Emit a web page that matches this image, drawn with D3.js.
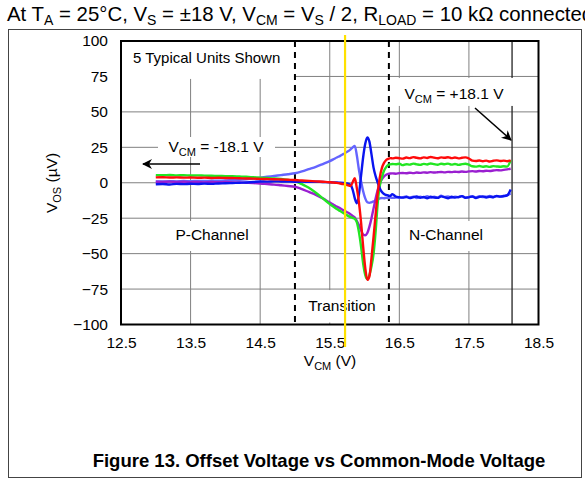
<!doctype html>
<html lang="en">
<head>
<meta charset="UTF-8">
<title>Offset Voltage vs Common-Mode Voltage</title>
<script src="https://d3js.org/d3.v7.min.js"></script>
<style>
body { margin: 0; background: #fff; }
text { font-family: "Liberation Sans", Arial, sans-serif; }
</style>
</head>
<body>
<div id="chart"></div>
<script>
// common-mode voltage (V), shared by all five units
var vcm = [13.0,13.1,13.2,13.3,13.4,13.5,13.6,13.7,13.8,13.9,14.0,14.1,14.2,14.3,14.4,14.5,14.6,14.7,14.8,14.9,15.0,15.1,15.2,15.3,15.4,15.5,
  15.55,15.6,15.65,15.7,15.75,15.8,15.83,15.86,15.89,15.92,15.95,15.98,16.01,16.04,16.07,16.1,16.13,16.16,16.19,16.22,16.25,16.28,16.31,16.34,16.37,16.4,16.45,16.5,
  16.55,16.6,16.65,16.7,16.75,16.8,16.85,16.9,16.95,17.0,17.05,17.1,17.15,17.2,17.25,17.3,17.35,17.4,17.45,17.5,17.55,17.6,17.65,17.7,17.75,17.8,17.85,17.9,17.95,18.0,18.05,18.1];

// offset voltage (uV) per unit
var unitLightBlue = [1.0,0.9,1.1,1.0,1.2,1.1,1.3,1.2,1.4,1.5,1.6,1.8,2.0,2.4,3.0,3.6,4.2,4.8,5.4,6.0,6.7,8.0,9.6,11.2,13.2,15.3,
  16.5,17.8,19.0,20.4,21.8,23.6,25.0,26.0,19.0,9.0,1.0,-6.0,-11.0,-13.8,-14.2,-13.8,-13.2,-12.5,-11.8,-11.0,-10.8,-10.9,-10.6,-10.8,-10.5,-10.7,-10.4,-10.6,
  -10.2,-9.6,-10.5,-9.8,-10.8,-9.9,-10.3,-9.5,-10.6,-9.9,-10.4,-9.2,-10.1,-9.7,-10.6,-9.8,-10.2,-9.4,-10.5,-10.0,-9.6,-10.3,-9.5,-10.1,-9.8,-9.3,-10.0,-9.4,-9.7,-9.2,-8.8,-7.5];
var unitPurple = [0.7,0.6,0.8,0.5,0.7,0.4,0.6,0.3,0.5,0.4,0.5,0.3,0.2,0.0,-0.2,-0.5,-0.9,-1.3,-1.8,-2.3,-2.8,-4.5,-6.5,-8.5,-11.0,-14.0,
  -15.3,-16.8,-18.0,-19.5,-20.8,-22.3,-23.5,-24.5,-27.0,-30.0,-33.5,-36.5,-37.0,-35.5,-31.0,-25.0,-18.0,-11.0,-5.0,-0.5,2.5,4.5,5.6,6.2,6.5,6.6,6.4,6.8,
  6.9,6.7,7.1,6.8,7.2,7.0,7.3,7.1,7.5,7.2,7.4,7.6,7.3,7.7,7.5,7.8,7.6,7.9,7.7,8.0,8.2,7.9,8.3,8.1,8.5,8.3,8.6,8.9,8.7,9.1,9.4,9.9];
var unitGreen = [5.4,5.3,5.5,5.2,5.3,5.1,5.2,5.0,4.9,4.8,4.7,4.6,4.4,4.2,3.9,3.6,3.3,3.0,2.6,2.0,1.2,-1.0,-3.5,-7.0,-11.0,-15.0,
  -16.8,-18.5,-20.0,-21.5,-23.0,-24.2,-24.8,-25.5,-28.0,-35.0,-45.0,-57.0,-65.0,-68.0,-65.0,-59.0,-50.0,-34.0,-14.0,-2.0,4.0,8.5,11.0,12.5,13.0,13.2,13.0,13.4,
  12.4,13.1,12.8,13.5,13.0,12.6,13.3,12.9,13.6,13.1,12.7,13.4,13.0,13.5,12.8,13.2,12.6,13.1,13.4,12.7,11.6,11.4,11.8,11.3,11.6,11.2,11.7,11.5,11.3,11.6,11.4,15.9];
var unitBlue = [-1.1,-0.9,-1.2,-0.8,-1.0,-0.7,-0.9,-0.6,-0.8,-0.5,-0.4,-0.2,0.0,0.2,0.5,0.9,0.8,1.0,0.9,0.8,0.7,0.8,0.6,0.7,0.5,0.4,
  0.3,0.2,0.0,-0.2,-0.4,-1.5,-5.0,-11.0,-14.5,-8.0,5.0,18.0,27.5,32.0,29.0,20.0,10.5,4.5,0.0,-4.0,-6.5,-8.0,-8.6,-9.0,-9.3,-8.0,-9.8,-10.2,
  -10.5,-10.0,-10.8,-10.2,-9.7,-10.6,-10.1,-10.9,-9.8,-10.4,-10.7,-9.6,-10.2,-10.9,-9.9,-10.5,-10.1,-9.4,-10.6,-10.3,-9.7,-10.8,-10.0,-9.6,-10.4,-9.9,-10.2,-9.3,-9.8,-9.5,-8.9,-4.8];
var unitRed = [3.8,3.9,3.7,3.8,3.6,3.7,3.5,3.6,3.4,3.5,3.4,3.3,3.2,3.0,2.9,2.7,2.6,2.5,2.3,2.1,1.9,1.6,1.3,1.0,0.7,0.4,
  0.2,-0.1,-0.5,-1.0,-1.7,-2.3,0.5,3.2,-4.0,-14.0,-28.0,-45.0,-60.0,-68.5,-66.0,-53.0,-38.0,-22.0,-7.0,4.0,10.5,14.0,16.0,16.8,17.4,17.2,17.6,17.3,
  17.0,17.8,17.4,18.1,17.6,17.2,17.9,17.5,18.2,17.7,17.3,17.9,17.6,18.0,17.4,17.8,17.2,17.6,17.9,17.1,15.6,15.3,15.7,15.2,15.6,15.0,15.5,15.8,15.3,15.6,15.2,15.8];

var xTicks = [12.5, 13.5, 14.5, 15.5, 16.5, 17.5, 18.5];
var yTicks = [-100, -75, -50, -25, 0, 25, 50, 75, 100];
var xGrid = [13.5, 14.5, 15.5, 16.5, 17.5];
var regionEdges = [15.0, 16.35];
var railLine = 18.12;
var cursorLine = 15.72;

var width = 585, height = 480;
var plot = {left: 121, right: 538.5, top: 41, bottom: 324.5};

var svg = d3.select("#chart").append("svg")
    .attr("width", width)
    .attr("height", height);

var x = d3.scaleLinear().domain([12.5, 18.5]).range([plot.left, plot.right]);
var y = d3.scaleLinear().domain([-100, 100]).range([plot.bottom, plot.top]);

// text with subscripts: parts alternate normal / subscript
function richText(t, parts, subSize) {
  parts.forEach(function(p, i) {
    if (i % 2 == 0) {
      t.append("tspan").attr("dy", i == 0 ? 0 : -4).text(p);
    } else {
      t.append("tspan").attr("font-size", subSize).attr("dy", 4).text(p);
    }
  });
  return t;
}

// header line, runs off the right edge like the datasheet crop
richText(svg.append("text").attr("x", 7).attr("y", 21).attr("font-size", "20.4px").attr("fill", "#000"),
  ["At T", "A", " = 25°C, V", "S", " = ±18 V, V", "CM", " = V", "S", " / 2, R", "LOAD", " = 10 kΩ connected to V", "S", " / 2"], "14px");

// outer figure box
svg.append("rect")
    .attr("x", 8.5).attr("y", 29.5)
    .attr("width", 573).attr("height", 448)
    .attr("fill", "none").attr("stroke", "#444").attr("stroke-width", 1);

// grid
var grid = svg.append("g");
grid.selectAll(".hgrid").data(yTicks.slice(1, -1)).enter().append("line")
    .attr("x1", plot.left).attr("x2", plot.right)
    .attr("y1", function(d) { return y(d); }).attr("y2", function(d) { return y(d); })
    .attr("stroke", "#808080").attr("stroke-width", 1);
grid.selectAll(".vgrid").data(xGrid).enter().append("line")
    .attr("x1", function(d) { return x(d); }).attr("x2", function(d) { return x(d); })
    .attr("y1", plot.top).attr("y2", plot.bottom)
    .attr("stroke", "#808080").attr("stroke-width", 1);
grid.append("line")
    .attr("x1", x(railLine)).attr("x2", x(railLine))
    .attr("y1", plot.top).attr("y2", plot.bottom)
    .attr("stroke", "#222").attr("stroke-width", 1.3);

// white boxes behind the annotations
var boxes = [
  [plot.left, plot.top, x(15.0) - plot.left - 1, y(75) - plot.top + 2.5],
  [x(15.0) + 2, y(-75) + 1, x(16.35) - x(15.0) - 4, plot.bottom - y(-75) - 3],
  [166, 221, 92, 30],
  [404, 221, 94, 30],
  [158, 137, 117, 20],
  [393, y(75) + 1.5, 140, 28]
];
svg.selectAll(".box").data(boxes).enter().append("rect")
    .attr("x", function(d) { return d[0]; }).attr("y", function(d) { return d[1]; })
    .attr("width", function(d) { return d[2]; }).attr("height", function(d) { return d[3]; })
    .attr("fill", "#fff");

// region borders
svg.selectAll(".edge").data(regionEdges).enter().append("line")
    .attr("x1", function(d) { return x(d); }).attr("x2", function(d) { return x(d); })
    .attr("y1", plot.top).attr("y2", plot.bottom)
    .attr("stroke", "#000").attr("stroke-width", 2).attr("stroke-dasharray", "6,5");

// curves
var units = [
  {vals: unitLightBlue, color: "#6464ff"},
  {vals: unitPurple, color: "#9a1fd0"},
  {vals: unitGreen, color: "#22e622"},
  {vals: unitBlue, color: "#0a14f0"},
  {vals: unitRed, color: "#ff0a0a"}
];
var line = d3.line()
    .x(function(d) { return x(d[0]); })
    .y(function(d) { return y(d[1]); })
    .curve(d3.curveMonotoneX);
units.forEach(function(u) {
  svg.append("path")
      .datum(d3.zip(vcm, u.vals))
      .attr("d", line)
      .attr("fill", "none")
      .attr("stroke", u.color)
      .attr("stroke-width", 2.4)
      .attr("stroke-linejoin", "round");
});

// frame
svg.append("rect")
    .attr("x", plot.left).attr("y", plot.top)
    .attr("width", plot.right - plot.left).attr("height", plot.bottom - plot.top)
    .attr("fill", "none").attr("stroke", "#000").attr("stroke-width", 2);

// axes
var xAxis = svg.append("g")
    .attr("transform", "translate(0," + plot.bottom + ")")
    .call(d3.axisBottom(x).tickValues(xTicks).tickSize(0).tickPadding(12).tickFormat(d3.format(".1f")));
var yAxis = svg.append("g")
    .attr("transform", "translate(" + plot.left + ",0)")
    .call(d3.axisLeft(y).tickValues(yTicks).tickSize(0).tickPadding(13));
[xAxis, yAxis].forEach(function(a) {
  a.select(".domain").remove();
  a.selectAll("text").attr("font-size", "15.5px").attr("fill", "#000")
      .attr("font-family", "'Liberation Sans', Arial, sans-serif");
});

// axis titles
richText(svg.append("text").attr("x", 330).attr("y", 366).attr("text-anchor", "middle").attr("font-size", "15.5px"),
  ["V", "CM", " (V)"], "11px");
richText(svg.append("text").attr("transform", "translate(57,183) rotate(-90)").attr("text-anchor", "middle").attr("font-size", "15.5px"),
  ["V", "OS", " (µV)"], "11px");

// annotations
svg.append("text").attr("x", 133).attr("y", 63).attr("font-size", "15px").text("5 Typical Units Shown");
svg.append("text").attr("x", x(15.675)).attr("y", 311).attr("text-anchor", "middle").attr("font-size", "15.5px").text("Transition");
svg.append("text").attr("x", 212).attr("y", 240).attr("text-anchor", "middle").attr("font-size", "15.5px").text("P-Channel");
svg.append("text").attr("x", 446).attr("y", 240).attr("text-anchor", "middle").attr("font-size", "15.5px").text("N-Channel");
richText(svg.append("text").attr("x", 216).attr("y", 152).attr("text-anchor", "middle").attr("font-size", "15.5px"),
  ["V", "CM", " = -18.1 V"], "11px");
richText(svg.append("text").attr("x", 454).attr("y", 99).attr("text-anchor", "middle").attr("font-size", "15.5px"),
  ["V", "CM", " = +18.1 V"], "11px");

svg.append("defs").append("marker")
    .attr("id", "arrow").attr("viewBox", "0 0 10 10")
    .attr("refX", 9).attr("refY", 5)
    .attr("markerWidth", 10).attr("markerHeight", 10)
    .attr("markerUnits", "userSpaceOnUse")
    .attr("orient", "auto")
  .append("path").attr("d", "M0,0 L10,5 L0,10 L3,5 Z").attr("fill", "#000");
svg.append("line").attr("x1", 200).attr("y1", 164).attr("x2", 143).attr("y2", 164)
    .attr("stroke", "#000").attr("stroke-width", 1.5).attr("marker-end", "url(#arrow)");
svg.append("line").attr("x1", 475).attr("y1", 108).attr("x2", 511).attr("y2", 140)
    .attr("stroke", "#000").attr("stroke-width", 1.5).attr("marker-end", "url(#arrow)");

// yellow cursor drawn on top
svg.append("line")
    .attr("x1", x(cursorLine)).attr("x2", x(cursorLine))
    .attr("y1", 35).attr("y2", 347)
    .attr("stroke", "#ffe100").attr("stroke-width", 2.2);

// caption
svg.append("text").attr("x", 319).attr("y", 467).attr("text-anchor", "middle")
    .attr("font-size", "18.5px").attr("font-weight", "bold").text("Figure 13. Offset Voltage vs Common-Mode Voltage");
</script>
</body>
</html>
